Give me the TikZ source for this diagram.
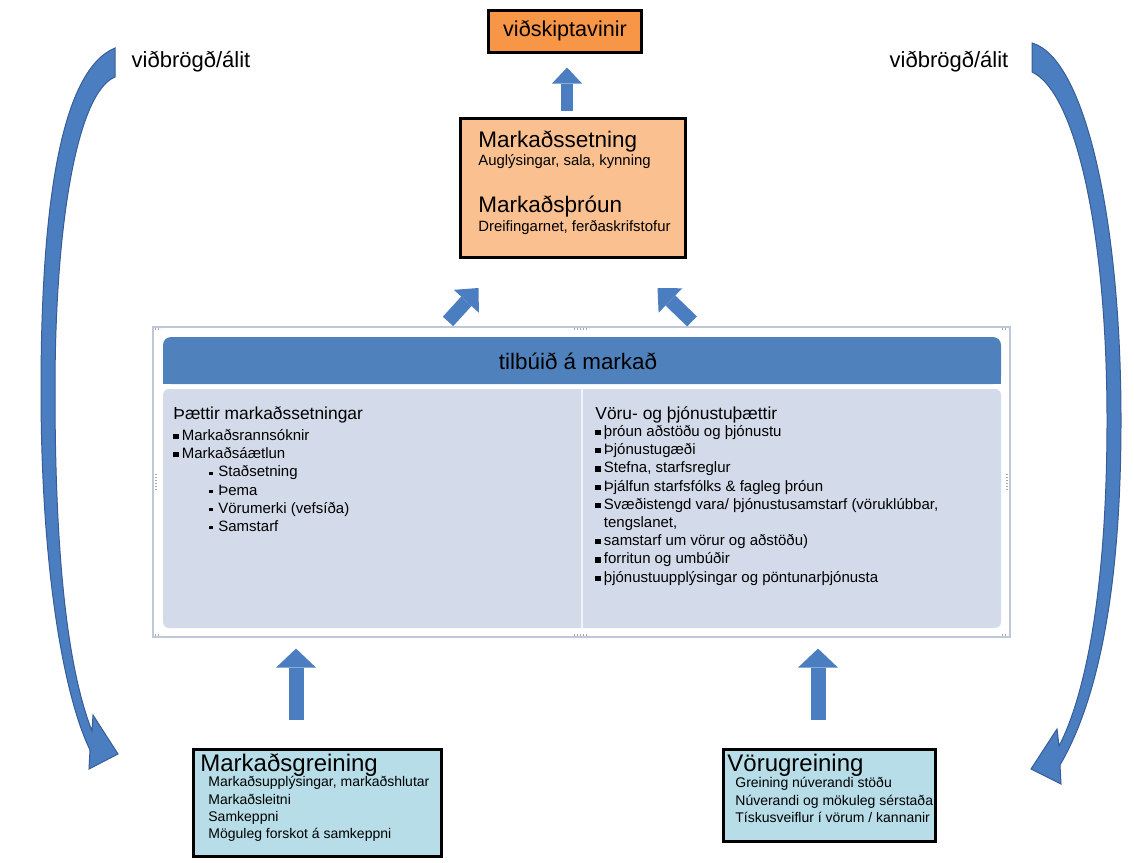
\documentclass[tikz,border=0pt]{standalone}
\usepackage{fontspec}
\setmainfont{Liberation Sans}
\usetikzlibrary{arrows.meta}

\definecolor{kundeorange}{RGB}{247,150,70}
\definecolor{msetpeach}{RGB}{250,192,144}
\definecolor{anacyan}{RGB}{183,222,232}
\definecolor{headblue}{RGB}{79,129,189}
\definecolor{bodyblue}{RGB}{211,219,234}
\definecolor{arrowblue}{RGB}{74,126,192}
\definecolor{arrowedge}{RGB}{56,93,150}
\definecolor{framegrey}{RGB}{190,200,214}

\newcommand{\sqb}{\makebox[4.25pt][l]{\rule[0.6pt]{2.6pt}{2.6pt}}}
\newcommand{\smb}{\hspace*{18pt}\makebox[4.5pt][l]{\rule[1pt]{1.6pt}{1.6pt}}}

\tikzset{
  box/.style={draw=black, line width=1.5pt, inner sep=0pt},
  boxtitle/.style={inner sep=0pt, anchor=base west, font=\fontsize{12pt}{14pt}\selectfont},
  boxitem/.style={inner sep=0pt, anchor=north west, align=left, font=\fontsize{7pt}{8.65pt}\selectfont},
  colhead/.style={inner sep=0pt, anchor=base west, font=\fontsize{8.7pt}{10pt}\selectfont},
  colitem/.style={inner sep=0pt, anchor=north west, align=left, font=\fontsize{7.5pt}{9.1pt}\selectfont},
  blockarrow/.style n args={3}{draw=arrowblue, line width=#1,
    -{Triangle[width=#2, length=#3, line width=0pt]}},
  curvarrow/.style={fill=arrowblue, draw=arrowedge, line width=0.5pt},
  handle/.style={draw=gray!70, line width=0.7pt, dash pattern=on 0.7pt off 0.8pt}
}

\begin{document}
\begin{tikzpicture}[x=0.5pt, y=-0.5pt]
\useasboundingbox (0,0) rectangle (1134,862);

% feedback arrows at the sides
\filldraw[curvarrow] (115,48) -- (115,77)
  .. controls (78,92) and (55,220) .. (55,390)
  .. controls (55,560) and (68,670) .. (92,731)
  -- (93,715) -- (118,754) -- (89,769) -- (90,750)
  .. controls (62,692) and (41,560) .. (41,390)
  .. controls (41,200) and (62,70) .. (115,48) -- cycle;
\filldraw[curvarrow] (1032,43)
  .. controls (1085,58) and (1121,220) .. (1121,420)
  .. controls (1121,600) and (1095,705) .. (1060,765)
  -- (1061,784) -- (1031,769) -- (1057,729) -- (1059,746)
  .. controls (1083,700) and (1107,600) .. (1107,420)
  .. controls (1107,230) and (1075,92) .. (1032,72) -- cycle;
\node[font=\fontsize{11pt}{13pt}\selectfont] (fbL) at (191,62) {viðbrögð/álit};
\node[font=\fontsize{11pt}{13pt}\selectfont] (fbR) at (949,62) {viðbrögð/álit};

% top boxes
\node[box, fill=kundeorange, minimum width=76.5pt, minimum height=21pt,
      font=\fontsize{10.8pt}{13pt}\selectfont] (kunde) at (565,31) {viðskiptavinir};
\node[box, fill=msetpeach, minimum width=112.5pt, minimum height=69.5pt] (mset) at (573,188) {};
\node[boxtitle, font=\fontsize{11.25pt}{13pt}\selectfont] (msetA) at (478,147) {Markaðssetning};
\node[boxtitle, font=\fontsize{7.45pt}{9pt}\selectfont] (msetAsub) at (478,165) {Auglýsingar, sala, kynning};
\node[boxtitle, font=\fontsize{11.25pt}{13pt}\selectfont] (msetB) at (478,212) {Markaðsþróun};
\node[boxtitle, font=\fontsize{7.45pt}{9pt}\selectfont] (msetBsub) at (478,231) {Dreifingarnet, ferðaskrifstofur};

% panel in the middle
\node[draw=framegrey, line width=0.6pt, minimum width=428.5pt, minimum height=155pt] (panel) at (581.5,482) {};
\draw[handle] (574,329) -- (589,329);
\draw[handle] (574,635) -- (589,635);
\draw[handle] (156,474) -- (156,490);
\draw[handle] (1007,474) -- (1007,490);
\draw[handle] (155,329) -- (161,329);
\draw[handle] (1002,329) -- (1008,329);
\draw[handle] (155,635) -- (161,635);
\draw[handle] (1002,635) -- (1008,635);
\fill[headblue, rounded corners=4pt] (163,337) rectangle (1001,384);
\fill[headblue] (163,360) rectangle (1001,384);
\fill[bodyblue, rounded corners=3pt] (163,389) rectangle (1001,628);
\draw[white, opacity=0.7, line width=0.6pt] (582,389) -- (582,628);
\node[font=\fontsize{11.2pt}{13pt}\selectfont] (title) at (578,361) {tilbúið á markað};

\node[colhead] (lhead) at (173,419) {Þættir markaðssetningar};
\node[colitem] (llist) at (173,429) {%
  \sqb Markaðsrannsóknir\\
  \sqb Markaðsáætlun\\
  \smb Staðsetning\\
  \smb Þema\\
  \smb Vörumerki (vefsíða)\\
  \smb Samstarf};

\node[colhead] (rhead) at (595,419) {Vöru- og þjónustuþættir};
\node[colitem] (rlist) at (595,425) {%
  \sqb þróun aðstöðu og þjónustu\\
  \sqb Þjónustugæði\\
  \sqb Stefna, starfsreglur\\
  \sqb Þjálfun starfsfólks \& fagleg þróun\\
  \sqb Svæðistengd vara/ þjónustusamstarf (vöruklúbbar,\\
  \hspace*{4.25pt}tengslanet,\\
  \sqb samstarf um vörur og aðstöðu)\\
  \sqb forritun og umbúðir\\
  \sqb þjónustuupplýsingar og pöntunarþjónusta};

% bottom boxes
\node[box, fill=anacyan, minimum width=124pt, minimum height=53.5pt] (markgr) at (317.5,803) {};
\node[boxtitle] (markgrA) at (200,771) {Markaðsgreining};
\node[boxitem] (markgrL) at (208,776) {%
  Markaðsupplýsingar, markaðshlutar\\
  Markaðsleitni\\
  Samkeppni\\
  Möguleg forskot á samkeppni};

\node[box, fill=anacyan, minimum width=106pt, minimum height=46pt] (vorugr) at (829.5,795.5) {};
\node[boxtitle] (vorugrA) at (727,771) {Vörugreining};
\node[boxitem] (vorugrL) at (735,777) {%
  Greining núverandi stöðu\\
  Núverandi og mökuleg sérstaða\\
  Tískusveiflur í vörum / kannanir};

% block arrows
\draw[blockarrow={6pt}{15pt}{8pt}] ([xshift=-3pt, yshift=3pt]mset.north)
  -- ([xshift=1pt, yshift=-7pt]kunde.south);
\draw[blockarrow={7pt}{17pt}{9pt}] ([xshift=-66.75pt, yshift=2.5pt]panel.north)
  -- ([xshift=-47.25pt, yshift=-14.5pt]mset.south);
\draw[blockarrow={7pt}{17pt}{9pt}] ([xshift=55.25pt, yshift=2.5pt]panel.north)
  -- ([xshift=42.25pt, yshift=-14.5pt]mset.south);
\draw[blockarrow={7.5pt}{20pt}{9.5pt}] ([xshift=-10.75pt, yshift=14pt]markgr.north)
  -- ([xshift=-10.75pt, yshift=-5.5pt]markgr.north |- panel.south);
\draw[blockarrow={7.5pt}{20pt}{9.5pt}] ([xshift=-5.75pt, yshift=14pt]vorugr.north)
  -- ([xshift=-5.75pt, yshift=-5.5pt]vorugr.north |- panel.south);
\end{tikzpicture}
\end{document}
